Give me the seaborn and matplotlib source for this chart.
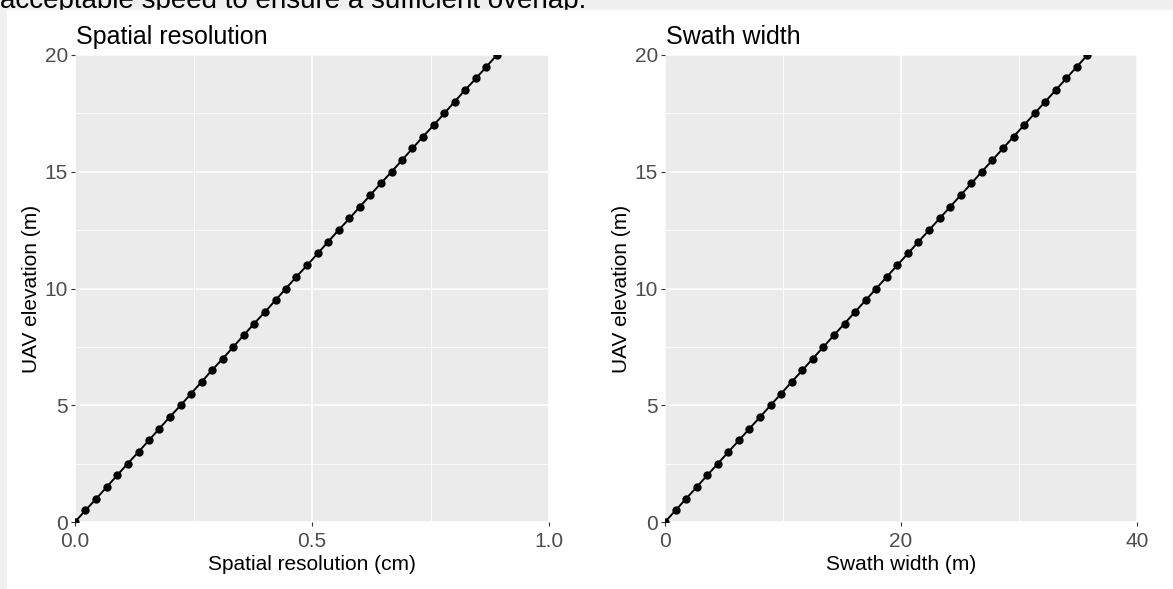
import seaborn as sns
import pandas as pd
import matplotlib.pyplot as plt
from matplotlib.patches import Rectangle
from matplotlib.ticker import MultipleLocator

# values
elevation = [0, 0.5, 1, 1.5, 2, 2.5, 3, 3.5, 4, 4.5, 5, 5.5, 6, 6.5, 7, 7.5,
             8, 8.5, 9, 9.5, 10, 10.5, 11, 11.5, 12, 12.5, 13, 13.5, 14,
             14.5, 15, 15.5, 16, 16.5, 17, 17.5, 18, 18.5, 19, 19.5, 20]
resolution = [0, 0.022, 0.045, 0.067, 0.089, 0.111, 0.134, 0.156, 0.178,
              0.200, 0.223, 0.245, 0.267, 0.289, 0.312, 0.334, 0.356, 0.378,
              0.401, 0.423, 0.445, 0.467, 0.490, 0.512, 0.534, 0.556, 0.579,
              0.601, 0.623, 0.645, 0.668, 0.690, 0.712, 0.734, 0.757, 0.779,
              0.801, 0.823, 0.846, 0.868, 0.890]
swath = [0, 0.90, 1.79, 2.69, 3.58, 4.48, 5.37, 6.27, 7.16, 8.06, 8.95, 9.85,
         10.74, 11.64, 12.53, 13.43, 14.32, 15.22, 16.11, 17.01, 17.90,
         18.80, 19.69, 20.59, 21.48, 22.38, 23.27, 24.17, 25.06, 25.96,
         26.85, 27.75, 28.64, 29.54, 30.43, 31.33, 32.22, 33.12, 34.01,
         34.91, 35.80]

top_text = "acceptable speed to ensure a sufficient overlap."


def panel(ax, x, y, xlabel, title, xmax, xmajor):
    df = pd.DataFrame({"x": x, "y": y})
    sns.lineplot(data=df, x="x", y="y", ax=ax, color="black", lw=1.4,
                 marker="o", markersize=6, markeredgewidth=0,
                 sort=False, estimator=None)
    ax.set_facecolor("#EBEBEB")
    ax.set_xlim(0, xmax)
    ax.set_ylim(0, 20)
    ax.xaxis.set_major_locator(MultipleLocator(xmajor))
    ax.xaxis.set_minor_locator(MultipleLocator(xmajor / 2))
    ax.yaxis.set_major_locator(MultipleLocator(5))
    ax.yaxis.set_minor_locator(MultipleLocator(2.5))
    ax.grid(which="major", color="white", lw=1.1)
    ax.grid(which="minor", color="white", lw=0.55)
    ax.set_axisbelow(True)
    for s in ax.spines.values():
        s.set_visible(False)
    ax.tick_params(which="major", length=3, width=0.8, color="#333333",
                   labelcolor="#4D4D4D", labelsize=15, pad=2)
    ax.tick_params(axis="x", which="major", pad=4)
    ax.tick_params(which="minor", length=0)
    if xmajor < 1:
        ax.set_xticklabels([f"{v:.1f}" for v in ax.get_xticks()])
    ax.set_xlabel(xlabel, fontsize=15, labelpad=3)
    ax.set_ylabel("UAV elevation (m)", fontsize=15, labelpad=3)
    ax.text(0.003, 1.024, title, transform=ax.transAxes, fontsize=18,
            ha="left", va="baseline")


def main():
    plt.rcParams["font.family"] = ["Liberation Sans", "DejaVu Sans"]
    fig = plt.figure(figsize=(11.73, 5.89), dpi=100, facecolor="#F0F0F0")
    W, H = 1173, 589
    fig.patches.append(Rectangle((7 / W, 0), 1, 1 - 10 / H,
                                 transform=fig.transFigure, color="white",
                                 zorder=-1))
    fig.text(0, 1 - 8 / H, top_text, fontsize=20, ha="left", va="baseline",
             zorder=-2)

    ax1 = fig.add_axes([75 / W, 1 - 522 / H, 474 / W, 467 / H])
    ax2 = fig.add_axes([665 / W, 1 - 522 / H, 472 / W, 467 / H])
    panel(ax1, resolution, elevation, "Spatial resolution (cm)",
          "Spatial resolution", 1.0, 0.5)
    panel(ax2, swath, elevation, "Swath width (m)", "Swath width", 40, 20)

    fig.savefig("out.png", dpi=100, facecolor=fig.get_facecolor())


if __name__ == "__main__":
    main()
